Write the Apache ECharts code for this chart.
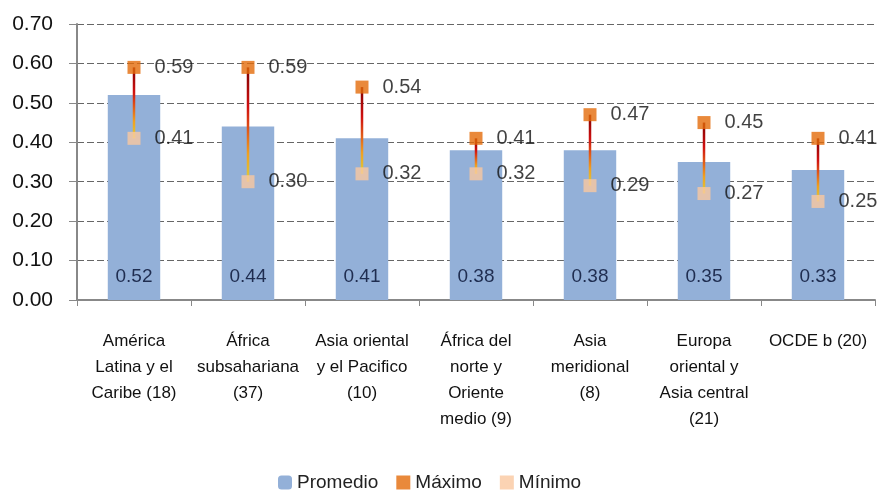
<!DOCTYPE html>
<html>
<head>
<meta charset="utf-8">
<script src="https://cdn.jsdelivr.net/npm/echarts@6/dist/echarts.min.js"></script>
<style>
  html, body { margin: 0; padding: 0; background: #fff; }
  #chart { width: 882px; height: 492px; }
</style>
</head>
<body>
<div id="chart"></div>
<script>
// regiones (número de países)
const categories = [
  'América\nLatina y el\nCaribe (18)',
  'África\nsubsahariana\n(37)',
  'Asia oriental\ny el Pacifico\n(10)',
  'África del\nnorte y\nOriente\nmedio (9)',
  'Asia\nmeridional\n(8)',
  'Europa\noriental y\nAsia central\n(21)',
  'OCDE b (20)'
];
const promedio = [0.52, 0.44, 0.41, 0.38, 0.38, 0.35, 0.33];
const maximo = [0.59, 0.59, 0.54, 0.41, 0.47, 0.45, 0.41];
const minimo = [0.41, 0.30, 0.32, 0.32, 0.29, 0.27, 0.25];

const FONT = "'Liberation Sans', Arial, sans-serif";

// línea máx-mín por categoría
const rangeData = categories.map((c, i) => [i, maximo[i], minimo[i]]);

const chart = echarts.init(document.getElementById('chart'));

const option = {
  backgroundColor: '#fff',
  animation: false,
  textStyle: { fontFamily: FONT },
  grid: { left: 77, right: 7, top: 24, bottom: 192 },
  legend: {
    top: 473,
    left: 278,
    padding: 0,
    itemWidth: 14,
    itemHeight: 14,
    itemGap: 18,
    textStyle: { fontFamily: FONT, fontSize: 19, color: '#222' },
    data: ['Promedio', 'Máximo', 'Mínimo']
  },
  xAxis: {
    type: 'category',
    data: categories,
    axisLine: { lineStyle: { color: '#888', width: 2 } },
    axisTick: { show: true, length: 6, lineStyle: { color: '#888' } },
    axisLabel: {
      interval: 0,
      margin: 28,
      fontFamily: FONT,
      fontSize: 17,
      lineHeight: 26,
      color: '#111'
    }
  },
  yAxis: {
    type: 'value',
    min: 0,
    max: 0.7,
    interval: 0.1,
    axisLine: { show: true, lineStyle: { color: '#888', width: 2 } },
    axisTick: { show: true, length: 8, lineStyle: { color: '#888' } },
    axisLabel: {
      margin: 24,
      fontFamily: FONT,
      fontSize: 21,
      color: '#111',
      formatter: v => v.toFixed(2)
    },
    splitLine: { lineStyle: { color: '#666', type: [7, 3] } }
  },
  series: [
    {
      name: 'Promedio',
      type: 'bar',
      data: promedio,
      barWidth: '46%',
      itemStyle: { color: '#93B0D8' },
      label: {
        show: true,
        position: 'insideBottom',
        distance: 14,
        fontFamily: FONT,
        fontSize: 19,
        color: '#1F2D50',
        formatter: p => p.value.toFixed(2)
      }
    },
    {
      name: 'rango',
      type: 'custom',
      silent: true,
      data: rangeData,
      encode: { x: 0, y: [1, 2] },
      z: 3,
      renderItem: (params, api) => {
        const top = api.coord([api.value(0), api.value(1)]);
        const bot = api.coord([api.value(0), api.value(2)]);
        return {
          type: 'line',
          shape: { x1: top[0], y1: top[1], x2: bot[0], y2: bot[1] },
          style: {
            lineWidth: 2.5,
            stroke: new echarts.graphic.LinearGradient(0, 0, 0, 1, [
              { offset: 0, color: '#7A0000' },
              { offset: 0.35, color: '#D01010' },
              { offset: 0.75, color: '#F0A020' },
              { offset: 1, color: '#D8D040' }
            ], false)
          }
        };
      }
    },
    {
      name: 'Máximo',
      type: 'scatter',
      data: maximo,
      symbol: 'rect',
      symbolSize: 13,
      z: 4,
      itemStyle: { color: '#E46C0A' },
      label: {
        show: true,
        position: 'right',
        distance: 14,
        fontFamily: FONT,
        fontSize: 20,
        color: '#111',
        formatter: p => p.value.toFixed(2)
      }
    },
    {
      name: 'Mínimo',
      type: 'scatter',
      data: minimo,
      symbol: 'rect',
      symbolSize: 13,
      z: 4,
      itemStyle: { color: '#FAC8A0' },
      label: {
        show: true,
        position: 'right',
        distance: 14,
        fontFamily: FONT,
        fontSize: 20,
        color: '#111',
        formatter: p => p.value.toFixed(2)
      }
    }
  ]
};

chart.setOption(option);
</script>
</body>
</html>
